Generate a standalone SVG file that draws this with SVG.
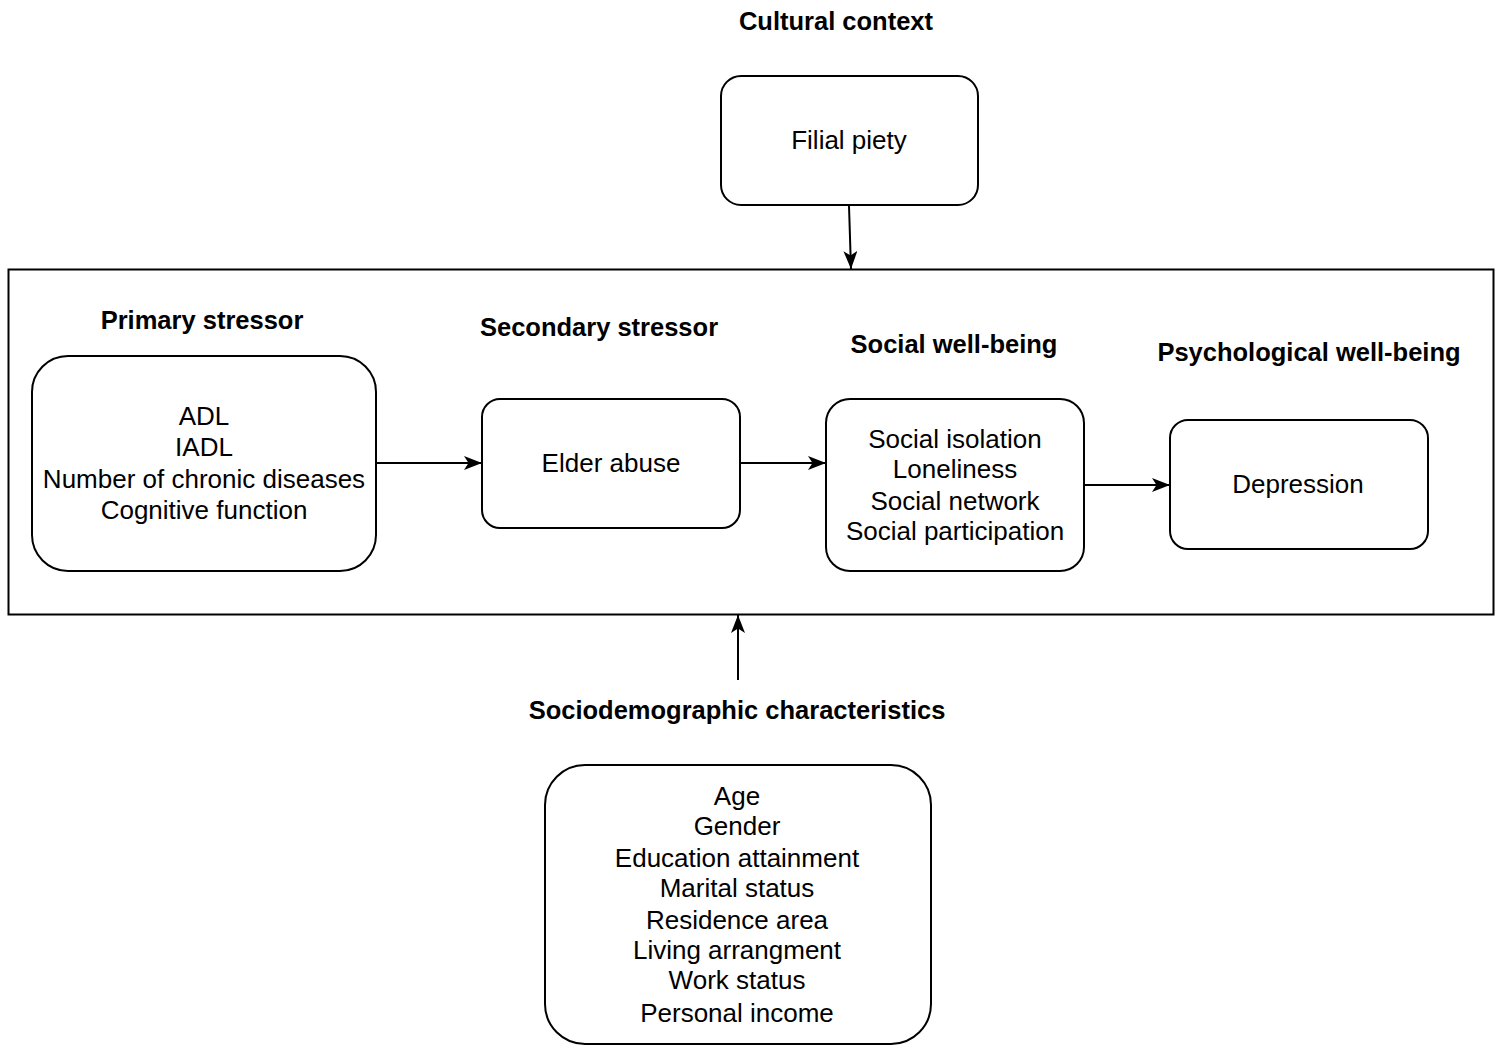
<svg xmlns="http://www.w3.org/2000/svg" width="1501" height="1046" viewBox="0 0 1501 1046">
<style>
.box{fill:#fff;stroke:#000;stroke-width:2}
.t{font-family:"Liberation Sans",Arial,sans-serif;font-size:26px;text-anchor:middle;fill:#000}
.h{font-family:"Liberation Sans",Arial,sans-serif;font-size:25.5px;font-weight:bold;text-anchor:middle;fill:#000}
.c{stroke:#000;stroke-width:2;fill:none}
</style>
<defs>
<marker id="ah" markerWidth="18" markerHeight="14" refX="18" refY="7" orient="auto" markerUnits="userSpaceOnUse" viewBox="0 0 18 14">
<path d="M0,0 L18,7 L0,14 L4.5,7 Z" fill="#000"/>
</marker>
</defs>
<rect width="1501" height="1046" fill="#fff"/>
<g id="frame"><rect x="8.5" y="269.5" width="1485" height="345" fill="none" stroke="#000" stroke-width="2"/></g>
<g id="titles">
<text class="h" x="836" y="30">Cultural context</text>
<text class="h" x="202" y="329">Primary stressor</text>
<text class="h" x="599" y="336">Secondary stressor</text>
<text class="h" x="954" y="353">Social well-being</text>
<text class="h" x="1309" y="361">Psychological well-being</text>
<text class="h" x="737" y="719">Sociodemographic characteristics</text>
</g>
<g id="connectors">
<line class="c" x1="849" y1="206" x2="851" y2="269" marker-end="url(#ah)"/>
<line class="c" x1="377" y1="463" x2="482" y2="463" marker-end="url(#ah)"/>
<line class="c" x1="741" y1="463" x2="826" y2="463" marker-end="url(#ah)"/>
<line class="c" x1="1085" y1="485" x2="1170" y2="485" marker-end="url(#ah)"/>
<line class="c" x1="738" y1="680" x2="738" y2="615" marker-end="url(#ah)"/>
</g>
<g id="filial">
<rect class="box" x="721" y="76" width="257" height="129" rx="20"/>
<text class="t" x="849" y="149">Filial piety</text>
</g>
<g id="primary">
<rect class="box" x="32" y="356" width="344" height="215" rx="36"/>
<text class="t" x="204" y="425">ADL</text>
<text class="t" x="204" y="456">IADL</text>
<text class="t" x="204" y="488">Number of chronic diseases</text>
<text class="t" x="204" y="519">Cognitive function</text>
</g>
<g id="elder">
<rect class="box" x="482" y="399" width="258" height="129" rx="18"/>
<text class="t" x="611" y="472">Elder abuse</text>
</g>
<g id="social">
<rect class="box" x="826" y="399" width="258" height="172" rx="24"/>
<text class="t" x="955" y="448">Social isolation</text>
<text class="t" x="955" y="478">Loneliness</text>
<text class="t" x="955" y="510">Social network</text>
<text class="t" x="955" y="540">Social participation</text>
</g>
<g id="depression">
<rect class="box" x="1170" y="420" width="258" height="129" rx="18"/>
<text class="t" x="1298" y="493">Depression</text>
</g>
<g id="socio">
<rect class="box" x="545" y="765" width="386" height="279" rx="40"/>
<text class="t" x="737" y="805">Age</text>
<text class="t" x="737" y="835">Gender</text>
<text class="t" x="737" y="867">Education attainment</text>
<text class="t" x="737" y="897">Marital status</text>
<text class="t" x="737" y="929">Residence area</text>
<text class="t" x="737" y="959">Living arrangment</text>
<text class="t" x="737" y="989">Work status</text>
<text class="t" x="737" y="1022">Personal income</text>
</g>
</svg>
